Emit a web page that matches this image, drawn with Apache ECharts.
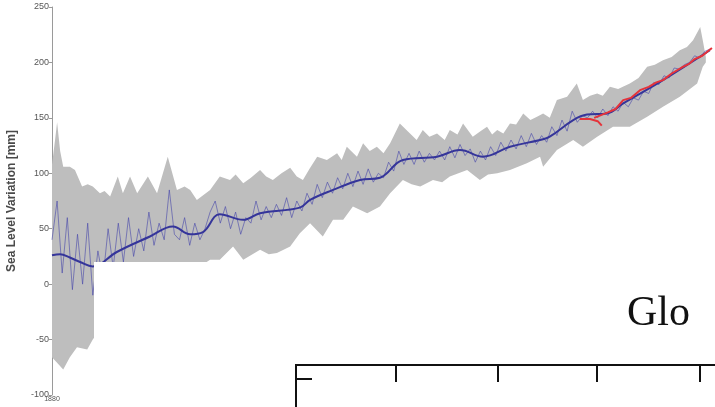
<!DOCTYPE html>
<html>
<head>
<meta charset="utf-8">
<script src="https://cdn.jsdelivr.net/npm/echarts@6/dist/echarts.min.js"></script>
<style>
  html, body { margin: 0; padding: 0; background: #fff; }
  #chart { width: 715px; height: 407px; }
</style>
</head>
<body>
<div id="chart"></div>
<script>
// values: [year, mm]
var bandUpper = [[1880,108],[1880.6,130],[1881,146],[1881.6,120],[1882.2,106],[1883.5,106],[1884.5,103],[1885.9,88],
  [1887,90],[1888,88],[1889.4,82],[1890.3,84],[1891.4,79],[1892.9,97],[1893.9,82],[1895.3,97],[1896.7,82],[1898.8,97],
  [1900.6,82],[1902.7,115],[1904.5,85],[1906,88],[1907.1,85],[1908.4,76],[1911,85],[1912.9,97],[1914.9,94],[1916,99],
  [1917.5,91],[1919,96],[1920.8,103],[1922,97],[1923.3,94],[1925,100],[1926.7,105],[1928,97],[1929.2,94],[1930.5,104],
  [1932,115],[1933.9,112],[1935.9,118],[1936.8,112],[1937.8,124],[1939.8,115],[1941,127],[1942.3,120],[1943.7,124],
  [1945,118],[1946.3,127],[1948.2,145],[1950.2,136],[1951.5,130],[1952.7,139],[1954,133],[1955.5,136],[1957,130],
  [1958,139],[1959.5,135],[1960.6,145],[1962.5,133],[1964,138],[1965.3,142],[1966.3,135],[1967.3,139],[1968.5,136],
  [1969.8,145],[1971,144],[1972.4,154],[1973.8,148],[1975.1,151],[1976.3,154],[1977.6,150],[1979,166],[1981,169],
  [1982.9,181],[1984.1,166],[1985.5,170],[1986.9,172],[1988,170],[1989.4,178],[1991,176],[1993.3,181],[1995,186],
  [1996.7,196],[1998.2,198],[1999.8,202],[2001.5,205],[2003.1,211],[2004.5,214],[2005.7,220],[2007.1,232],
  [2007.6,220],[2008.2,205]];
var bandLower = [[1880,-66],[1882.2,-77],[1883.5,-66],[1884.9,-57],[1886.9,-59],[1888,-50],[1889.4,-41],[1891.4,-32],
  [1893.3,-23],[1896.3,-14],[1899.2,-10],[1902.2,-5],[1905.1,4],[1908,13],[1911,22],[1912.9,22],[1915.5,34],[1917.5,22],
  [1920.8,31],[1922.5,27],[1924.1,28],[1926.7,34],[1928.6,46],[1930.6,55],[1933.1,43],[1935.1,58],[1937.1,58],[1939,70],
  [1941.8,64],[1944.3,70],[1946.3,82],[1948.8,94],[1950.5,90],[1952.2,88],[1954.7,94],[1956.5,92],[1958,97],[1961.4,103],
  [1963.9,94],[1965.5,99],[1967.3,100],[1969.8,103],[1973.1,109],[1975.7,115],[1976.3,106],[1979,121],[1982.2,130],
  [1984.1,124],[1986.9,133],[1990,142],[1993.3,142],[1996.7,151],[1999.8,160],[2003.1,169],[2006.5,181],[2007.6,196],
  [2008.2,200]];
var annualStart = 1880;
var annual = [40,75,10,60,-5,45,0,55,-10,30, 5,50,15,55,20,60,25,50,30,65,
  35,55,40,85,45,40,60,35,55,40, 50,65,75,55,70,50,65,45,60,55,
  75,58,70,60,72,62,78,60,75,66, 82,72,90,78,92,82,96,86,100,88,
  102,90,104,92,100,96,110,102,120,108, 118,108,120,110,118,112,120,112,124,114,
  126,116,122,110,120,112,124,116,128,120, 130,122,134,124,136,126,134,128,142,134,
  148,138,156,146,152,150,156,150,158,152, 160,156,164,160,168,166,174,172,182,180,
  188,186,195,194,198,200,206,204,210,212];
var smooth = [[1880,26],[1881.6,27],[1883.5,24],[1885.5,20],[1888,16],[1892.7,29],[1899.2,43],[1903.7,52],
  [1907.1,45],[1909.6,47],[1912.9,63],[1917.5,58],[1920.8,64],[1928.6,69],[1930.6,76],[1935.1,85],[1940.4,94],
  [1944.3,96],[1948.8,112],[1955.5,115],[1960,121],[1964.5,115],[1969.8,124],[1975.7,130],[1977.6,133],
  [1982.2,148],[1984.9,153],[1988.8,154],[1992,163],[1999.8,184],[2009,211]];
var satelliteHook = [[1983.5,149],[1985.5,149],[1987,147],[1987.8,143]];
var satellite = [[1986.3,150],[1989,155],[1990.5,158],[1992,166],[1993.5,168],[1995.3,175],[1997,178],[1998.5,182],
  [1999.8,184],[2001.5,190],[2003.7,196],[2005,199],[2006,203],[2007.5,206],[2009.4,213]];
var yTicks = { min: -100, max: 250, step: 50 };

var annualData = annual.map(function(v, i) { return [annualStart + i, v]; });
var bandPoly = bandUpper.concat(bandLower.slice().reverse());

var chart = echarts.init(document.getElementById('chart'), null, { renderer: 'canvas' });
chart.setOption({
  animation: false,
  grid: { left: 52, right: 0, top: 7, bottom: 12, containLabel: false, outerBoundsMode: 'none' },
  xAxis: {
    type: 'value', min: 1880, max: 2010, interval: 20,
    axisLine: { lineStyle: { color: '#9a9a9a', width: 1 } },
    axisTick: { show: false },
    axisLabel: { color: '#555', fontSize: 7, margin: 1, fontFamily: 'Liberation Sans',
      formatter: function(v) { return String(v); } },
    splitLine: { show: false }
  },
  yAxis: {
    type: 'value', min: yTicks.min, max: yTicks.max, interval: yTicks.step,
    name: 'Sea Level Variation [mm]', nameLocation: 'middle', nameGap: 34,
    nameTextStyle: { color: '#4a4a4a', fontSize: 12, fontWeight: 'bold', fontFamily: 'Liberation Sans' },
    axisLine: { show: true, lineStyle: { color: '#9a9a9a', width: 1 } },
    axisTick: { show: true, length: 3, lineStyle: { color: '#9a9a9a' } },
    axisLabel: { color: '#555', fontSize: 9, margin: 3, fontFamily: 'Liberation Sans' },
    splitLine: { show: false }
  },
  series: [
    {
      type: 'custom',
      data: [[1880, 0]],
      z: 1,
      renderItem: function(params, api) {
        var pts = bandPoly.map(function(p) { return api.coord(p); });
        return { type: 'polygon', shape: { points: pts }, style: { fill: '#bebebe' } };
      }
    },
    {
      type: 'line', data: annualData, symbol: 'none', z: 2,
      lineStyle: { color: 'rgba(70,70,170,0.6)', width: 1 }
    },
    {
      type: 'line', data: smooth, symbol: 'none', smooth: 0.4, z: 3,
      lineStyle: { color: '#35359a', width: 2 }
    },
    {
      type: 'line', data: satelliteHook, symbol: 'none', z: 4,
      lineStyle: { color: '#e5333a', width: 2 }
    },
    {
      type: 'line', data: satellite, symbol: 'none', z: 4,
      lineStyle: { color: '#e5333a', width: 2 }
    }
  ],
  graphic: [
    { type: 'rect', z: 100, shape: { x: 94, y: 262, width: 621, height: 145 }, style: { fill: '#fff' } },
    { type: 'text', z: 101, x: 627, y: 335, style: { text: 'Glo', fill: '#111', font: '42px "Liberation Serif"', textVerticalAlign: 'bottom' } },
    { type: 'polyline', z: 101, shape: { points: [[296, 407], [296, 365], [715, 365]] }, style: { stroke: '#111', lineWidth: 2, fill: null } },
    { type: 'line', z: 101, shape: { x1: 296, y1: 379, x2: 312, y2: 379 }, style: { stroke: '#111', lineWidth: 2 } },
    { type: 'line', z: 101, shape: { x1: 396, y1: 365, x2: 396, y2: 382 }, style: { stroke: '#111', lineWidth: 2 } },
    { type: 'line', z: 101, shape: { x1: 498, y1: 365, x2: 498, y2: 382 }, style: { stroke: '#111', lineWidth: 2 } },
    { type: 'line', z: 101, shape: { x1: 597, y1: 365, x2: 597, y2: 382 }, style: { stroke: '#111', lineWidth: 2 } },
    { type: 'line', z: 101, shape: { x1: 700, y1: 365, x2: 700, y2: 382 }, style: { stroke: '#111', lineWidth: 2 } }
  ]
});
window.addEventListener('resize', function() { chart.resize(); });
</script>
</body>
</html>
